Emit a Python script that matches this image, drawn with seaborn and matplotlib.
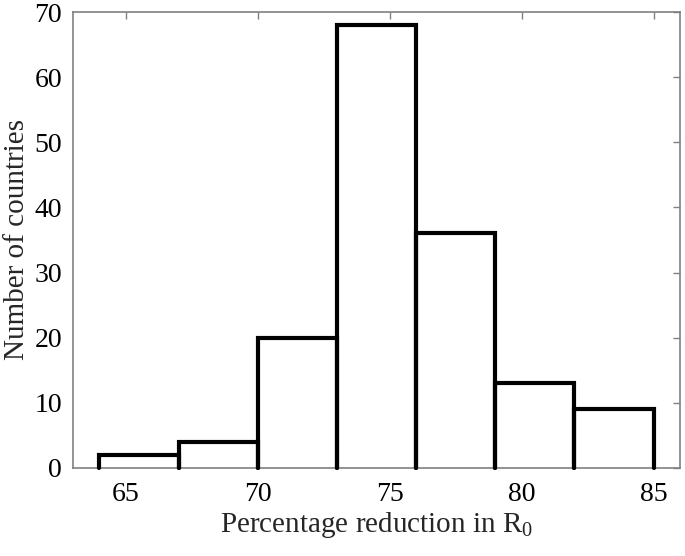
import matplotlib
matplotlib.use('Agg')
import matplotlib.pyplot as plt
import seaborn as sns

# histogram of R0 reduction per country
bin_edges = [64, 67, 70, 73, 76, 79, 82, 85]
counts = [2, 4, 20, 68, 36, 13, 9]
xticks = [65, 70, 75, 80, 85]
yticks = [0, 10, 20, 30, 40, 50, 60, 70]

sns.set_style('white')
plt.rcParams['font.family'] = ['Liberation Serif', 'DejaVu Serif']
plt.rcParams['mathtext.fontset'] = 'custom'
plt.rcParams['mathtext.rm'] = 'Liberation Serif'
plt.rcParams['mathtext.it'] = 'Liberation Serif:italic'

fig = plt.figure(figsize=(6.85, 5.56), dpi=100)
ax = fig.add_axes([0.1066, 0.1583, 0.8861, 0.8201])

sns.histplot(x=bin_edges[:-1], weights=counts, bins=bin_edges,
             element='bars', fill=False, color='black', ax=ax)

# redraw each bar as an open outline (no bottom edge)
for p in list(ax.patches):
    x0, w, h = p.get_x(), p.get_width(), p.get_height()
    ax.plot([x0, x0, x0 + w, x0 + w], [0, h, h, 0], color='black',
            lw=3, solid_joinstyle='miter', zorder=3, clip_on=False)
    p.remove()

ax.set_xlim(63, 86)
ax.set_ylim(0, 70)
ax.set_xticks(xticks)
ax.set_yticks(yticks)

gray = '#808080'
for s in ax.spines.values():
    s.set_visible(True)
    s.set_color(gray)
    s.set_linewidth(1.2)
ax.tick_params(direction='in', length=5, width=1, color=gray,
               top=True, right=True, labelsize=20, labelcolor='black')
ax.tick_params(axis='x', pad=10)
ax.tick_params(axis='y', pad=8)

ax.set_xlabel(r'Percentage reduction in R$_0$', fontsize=21, labelpad=2)
ax.set_ylabel('Number of countries', fontsize=21, labelpad=3)

fig.savefig('out.png', dpi=100)
